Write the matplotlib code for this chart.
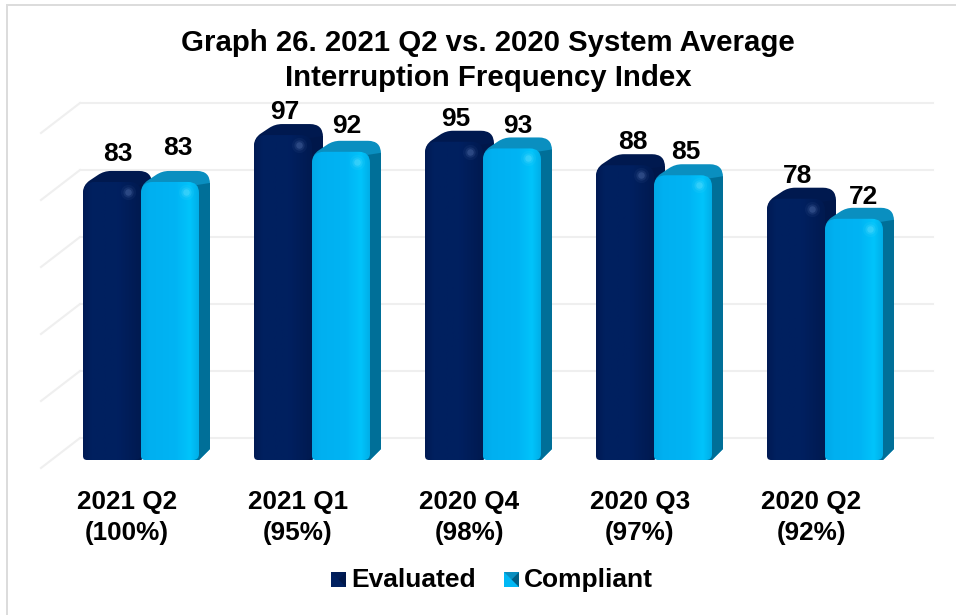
import matplotlib
matplotlib.use("Agg")
import matplotlib.pyplot as plt
import numpy as np
from matplotlib.patches import PathPatch, Polygon, Rectangle
from matplotlib.path import Path

plt.rcParams['font.family'] = ['Liberation Sans', 'DejaVu Sans']

quarters = ["2021 Q2\n(100%)", "2021 Q1\n(95%)", "2020 Q4\n(98%)", "2020 Q3\n(97%)", "2020 Q2\n(92%)"]
evaluated = [83, 97, 95, 88, 78]
compliant = [83, 92, 93, 85, 72]
grid_ticks = [0, 20, 40, 60, 80, 100]

W, H = 956, 615
GROUP_PX = 171.0   # pixels between categories
UNIT_PX = 3.35     # pixels per value unit
X0_PX, Y0_PX = 141, 460
BAR_PX = 58
DEPTH = 11

fig = plt.figure(figsize=(W / 100, H / 100), dpi=100)
ax = fig.add_axes([0, 0, 1, 1])
ax.set_xlim(-X0_PX / GROUP_PX, (W - X0_PX) / GROUP_PX)
ax.set_ylim(-(H - Y0_PX) / UNIT_PX, Y0_PX / UNIT_PX)
ax.axis("off")

px = 1 / GROUP_PX
py = 1 / UNIT_PX


def rounded(points, radii):
    # closed path through the points, corners rounded by radius in pixels
    verts, codes = [], []
    n = len(points)
    for i in range(n):
        p = np.array(points[i])
        prev = np.array(points[i - 1])
        nxt = np.array(points[(i + 1) % n])
        scale = np.array([px, py])
        a = (prev - p) / scale
        b = (nxt - p) / scale
        r = radii[i]
        start = p + a / np.linalg.norm(a) * r * scale if r else p
        end = p + b / np.linalg.norm(b) * r * scale if r else p
        verts.append(start)
        codes.append(Path.MOVETO if i == 0 else Path.LINETO)
        if r:
            verts += [p, end]
            codes += [Path.CURVE3, Path.CURVE3]
    verts.append(verts[0])
    codes.append(Path.CLOSEPOLY)
    return Path(verts, codes)


def front_gradient(x, w, top, colors, stops, z):
    # horizontal shading of the front face, clipped to a rounded box
    xs = np.linspace(0, 1, 120)
    rgb = np.array([matplotlib.colors.to_rgb(c) for c in colors])
    row = np.stack([np.interp(xs, stops, rgb[:, k]) for k in range(3)], axis=1)
    im = ax.imshow(row[None, :, :], extent=[x, x + w, 0, top], aspect="auto", zorder=z, interpolation="bilinear")
    clip = PathPatch(rounded([(x, 0), (x, top), (x + w, top), (x + w, 0)], [4, 12, 11, 6]),
                     transform=ax.transData, fc="none", ec="none")
    ax.add_patch(clip)
    im.set_clip_path(clip)


def bar3d(x, w, value, front_cols, stops, top_col, side_col, spot_col, z):
    dx, dy = DEPTH * px, DEPTH * py
    back = [(x, 10 * py), (x, value - 3 * py), (x + 21 * px, value + dy), (x + w + dx, value + dy),
            (x + w + dx, dy), (x + w, 0)]
    ax.add_patch(PathPatch(rounded(back, [0, 8, 7, 13, 0, 0]), fc=top_col, ec="none", zorder=z))
    side = [(x + w - 8 * px, 0), (x + w - 8 * px, value - 4 * py), (x + w + dx, value - 1 * py),
            (x + w + dx, dy), (x + w, 0)]
    ax.add_patch(Polygon(side, closed=True, fc=side_col, ec="none", zorder=z + 0.1))
    front_gradient(x, w, value, front_cols, stops, z + 0.2)
    # soft specular spot near the top right of the face
    for size, alpha in [(120, 0.08), (55, 0.16), (22, 0.30)]:
        ax.scatter([x + w - 13 * px], [value - 10 * py], s=size, color=spot_col, alpha=alpha,
                   linewidths=0, zorder=z + 0.3)


# frame, only the top and left edges show
frame_l, frame_t = 7, 5
ax.plot([(frame_l - X0_PX) * px] * 2, [-(H - Y0_PX) * py, (Y0_PX - frame_t) * py], color="#dcdcdc", lw=1.4, zorder=0)
ax.plot([(frame_l - X0_PX) * px, (W - X0_PX) * px], [(Y0_PX - frame_t) * py] * 2, color="#dcdcdc", lw=1.4, zorder=0)

# back wall gridlines and the slanted ones on the side wall
left_back = -61 * px
left_front = -100 * px
right_end = 792 * px
for t in grid_ticks:
    back_y = t + 22 * py
    ax.plot([left_back, right_end], [back_y, back_y], color="#efefef", lw=1.5, zorder=1)
    ax.plot([left_front, left_back], [t - 8 * py, back_y], color="#efefef", lw=1.5, zorder=1)

navy = ["#001a54", "#00205f", "#002060", "#001c56", "#001a50"]
cyan = ["#00a8e6", "#00b0f0", "#00b4f4", "#00c4fb", "#00aee8"]
stops = [0, 0.15, 0.6, 0.85, 1]

for i in range(len(quarters)):
    x_e = i - BAR_PX * px
    bar3d(x_e, BAR_PX * px, evaluated[i], navy, stops, "#00194f", "#00174a", "#5f7db8", 10 + i * 2)
    bar3d(i, BAR_PX * px, compliant[i], cyan, stops, "#0a8fc0", "#006f98", "#6fe4ff", 10.5 + i * 2)

# value labels, pixel nudges from the bar centre and top
eval_lift = [17, 12, 12, 12, 12]
comp_lift = [23, 15, 11, 12, 11]
eval_nudge = [6, 2, 2, 8, 2]
comp_nudge = [8, 6, 6, 3, 10]
for i in range(len(quarters)):
    ax.text(i + (-BAR_PX / 2 + eval_nudge[i]) * px, evaluated[i] + (DEPTH + eval_lift[i]) * py, str(evaluated[i]),
            ha="center", va="center", fontsize=19, fontweight="bold", color="black", zorder=30)
    ax.text(i + (BAR_PX / 2 + comp_nudge[i]) * px, compliant[i] + (DEPTH + comp_lift[i]) * py, str(compliant[i]),
            ha="center", va="center", fontsize=19, fontweight="bold", color="black", zorder=30)
    ax.text(i - 14 * px, -57.5 * py, quarters[i], ha="center", va="center", fontsize=18.8,
            fontweight="bold", color="black", linespacing=1.37, zorder=30)

ax.text((488 - X0_PX) * px, (Y0_PX - 60.5) * py, "Graph 26. 2021 Q2 vs. 2020 System Average\nInterruption Frequency Index",
        ha="center", va="center", fontsize=21.2, fontweight="bold", color="black", linespacing=1.34, zorder=30)

# legend built by hand so the keys can carry the bevelled look
for key_x, text_x, label, dark, mid, light in [(331, 351, "Evaluated", "#00174a", "#001d58", "#002060"),
                                                (504, 524, "Compliant", "#005f85", "#0a8fc0", "#00b8f5")]:
    kx = (key_x - X0_PX) * px
    ky = (Y0_PX - 587) * py
    cx, cy = kx + 7.5 * px, ky + 7.5 * py
    kw, kh = 15 * px, 15 * py
    ax.add_patch(Rectangle((kx, ky), kw, kh, fc=light, ec="none", zorder=30))
    ax.add_patch(Polygon([(kx, ky + kh), (kx + kw, ky + kh), (cx, cy)], closed=True, fc=mid, ec="none", zorder=31))
    ax.add_patch(Polygon([(kx + kw, ky), (kx + kw, ky + kh), (cx, cy)], closed=True, fc=dark, ec="none", zorder=31))
    ax.text((text_x - X0_PX) * px, ky, label, ha="left", va="baseline", fontsize=19,
            fontweight="bold", color="black", zorder=30)

ax.set_xlim(-X0_PX / GROUP_PX, (W - X0_PX) / GROUP_PX)
ax.set_ylim(-(H - Y0_PX) / UNIT_PX, Y0_PX / UNIT_PX)

fig.savefig("out.png", dpi=100)
